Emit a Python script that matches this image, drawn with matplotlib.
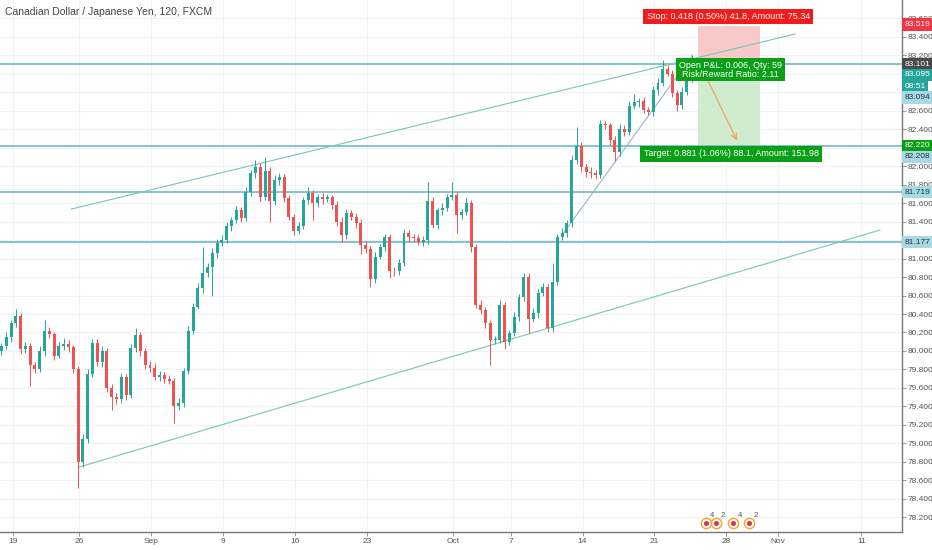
import matplotlib
matplotlib.use("Agg")
import matplotlib.pyplot as plt
import matplotlib.transforms as mtransforms

plt.rcParams['font.family'] = ['Liberation Sans', 'DejaVu Sans']

# CADJPY 120 min, resampled to ~3 candles per trading day
first_open = 80.00
closes = [
    80.05, 80.15, 80.30, 80.38, 80.02, 80.05, 79.85, 79.80, 80.00, 80.22,
    80.18, 79.95, 80.05, 80.08, 80.04, 79.80, 78.80, 79.05, 79.75, 80.09,
    79.88, 80.00, 79.60, 79.50, 79.48, 79.72, 79.52, 80.03, 80.17, 80.00,
    79.85, 79.82, 79.72, 79.74, 79.70, 79.68, 79.40, 79.44, 79.78, 80.22,
    80.48, 80.68, 80.84, 80.91, 81.06, 81.17, 81.20, 81.35, 81.42, 81.52,
    81.44, 81.72, 81.92, 81.99, 81.66, 81.95, 81.62, 81.85, 81.88, 81.65,
    81.45, 81.30, 81.35, 81.63, 81.71, 81.60, 81.66, 81.64, 81.66, 81.58,
    81.40, 81.25, 81.49, 81.45, 81.38, 81.15, 81.10, 80.78, 81.02, 81.12,
    81.23, 80.87, 80.86, 80.95, 81.28, 81.23, 81.22, 81.18, 81.20, 81.62,
    81.36, 81.52, 81.55, 81.66, 81.69, 81.47, 81.50, 81.60, 81.12, 80.50,
    80.44, 80.30, 80.12, 80.12, 80.50, 80.10, 80.19, 80.37, 80.58, 80.80,
    80.35, 80.41, 80.63, 80.69, 80.25, 80.75, 81.23, 81.28, 81.38, 82.06,
    82.22, 81.99, 81.94, 81.92, 81.90, 82.45, 82.44, 82.28, 82.15, 82.40,
    82.37, 82.65, 82.69, 82.70, 82.61, 82.58, 82.82, 82.90, 83.05, 83.00,
    82.79, 82.66, 82.80, 82.96, 83.095,
]
# upper / lower wick lengths in pips
wick_hi = [
    4, 5, 4, 7, 3, 5, 4, 3, 5, 11,
    4, 3, 5, 6, 4, 3, 4, 5, 6, 4,
    4, 5, 3, 4, 5, 4, 3, 5, 8, 4,
    3, 4, 5, 4, 3, 4, 3, 5, 4, 5,
    4, 5, 28, 4, 5, 4, 5, 4, 3, 5,
    4, 5, 4, 7, 4, 15, 4, 5, 4, 3,
    4, 3, 5, 4, 6, 3, 4, 5, 4, 3,
    4, 5, 4, 3, 4, 5, 4, 3, 5, 4,
    4, 3, 4, 5, 4, 3, 4, 5, 4, 21,
    4, 3, 5, 4, 14, 3, 4, 5, 3, 4,
    5, 4, 3, 4, 5, 3, 4, 5, 4, 4,
    4, 5, 4, 4, 3, 20, 4, 5, 4, 6,
    20, 4, 3, 5, 4, 5, 4, 3, 4, 5,
    4, 5, 9, 4, 5, 3, 4, 5, 10, 4,
    4, 3, 5, 4, 10,
]
wick_lo = [
    4, 3, 5, 4, 5, 4, 23, 4, 3, 5,
    4, 5, 3, 4, 5, 4, 28, 5, 4, 3,
    4, 5, 4, 14, 5, 4, 5, 3, 4, 5,
    4, 5, 3, 4, 5, 4, 18, 4, 5, 3,
    4, 3, 5, 4, 31, 5, 4, 3, 5, 4,
    5, 3, 4, 5, 4, 3, 22, 4, 5, 4,
    3, 5, 4, 3, 4, 18, 4, 5, 3, 4,
    5, 7, 4, 3, 5, 10, 4, 9, 4, 3,
    4, 8, 5, 4, 3, 5, 4, 3, 5, 4,
    3, 4, 5, 4, 3, 19, 4, 3, 5, 4,
    4, 5, 27, 4, 3, 8, 4, 3, 5, 4,
    15, 4, 5, 3, 4, 5, 4, 3, 5, 4,
    4, 5, 6, 5, 4, 3, 4, 5, 10, 4,
    5, 4, 3, 5, 4, 3, 4, 5, 4, 3,
    4, 6, 4, 3, 5,
]

# trading-day position of each date label (Aug 19 ~ 0)
date_days = [0.4, 5, 10, 15, 20, 25, 31, 35, 40, 45, 50, 53.6, 59.4]
date_labels = ['19', '26', 'Sep', '9', '16', '23', 'Oct', '7', '14', '21', '28', 'Nov', '11']

# price scale labels hidden behind the tags in the reference
hidden_prices = ['83.000', '82.800', '82.200', '81.200']

# drawings: (candle, price) anchors
upper_channel = [(14.6, 81.535), (165.6, 83.427)]
lower_channel = [(16.25, 78.746), (183.3, 81.308)]
steep_line = [(117.3, 81.276), (144.2, 83.20)]
levels = [83.101, 82.220, 81.719, 81.177]

# short position tool
pos_start, pos_end = 145.4, 158.3
entry, stop, target = 83.101, 83.519, 82.220
arrow_from = (146.9, 82.98)
arrow_to = (153.75, 82.25)

# price scale tags: (where drawn, label, face, text colour)
tags = [
    (83.53, '83.519', '#f23645', 'white'),
    (83.101, '83.101', '#4a4a4a', 'white'),
    (82.985, '83.095', '#26a69a', 'white'),
    (82.86, '08:51', '#26a69a', 'white'),
    (82.74, '83.094', '#a8d8e3', '#1a3a44'),
    (82.220, '82.220', '#0a9f17', 'white'),
    (82.10, '82.208', '#a8d8e3', '#1a3a44'),
    (81.719, '81.719', '#a8d8e3', '#1a3a44'),
    (81.177, '81.177', '#a8d8e3', '#1a3a44'),
]

events = [(147.0, '4'), (149.2, '2'), (152.7, '4'), (156.0, '2')]

UP = '#26a69a'
DOWN = '#ef5350'

fig = plt.figure(figsize=(9.32, 5.5), dpi=100)
ax = fig.add_axes([0, 18 / 550, 902 / 932, 532 / 550])

# grid
for d in date_days:
    ax.axvline(3 * d + 1.25, color='#eef1f6', lw=0.8, zorder=0)
price_ticks = [78.2 + 0.2 * i for i in range(28)]
for p in price_ticks:
    ax.axhline(p, color='#eef1f6', lw=0.8, zorder=0)

# candles
opens = [first_open] + closes[:-1]
for i, (o, c) in enumerate(zip(opens, closes)):
    col = UP if c >= o else DOWN
    hi = max(o, c) + wick_hi[i] / 100.0
    lo = min(o, c) - wick_lo[i] / 100.0
    ax.vlines(i, lo, hi, color=col, lw=0.7, zorder=3)
    ax.bar(i, max(abs(c - o), 0.008), bottom=min(o, c), width=0.62,
           color=col, lw=0, zorder=3)

# horizontal levels
for lv in levels:
    ax.axhline(lv, color='#6fb8c8', lw=1.2, zorder=2)

# trend lines
for ln, col in [(upper_channel, '#78c6b4'), (lower_channel, '#78c6b4'),
                (steep_line, '#9bb5c8')]:
    ax.plot([ln[0][0], ln[1][0]], [ln[0][1], ln[1][1]], color=col, lw=0.8, zorder=2)

# position tool
ax.fill_between([pos_start, pos_end], entry, stop, color='#f9c8c8', lw=0, zorder=1)
ax.fill_between([pos_start, pos_end], target, entry, color='#cfeccf', lw=0, zorder=1)
ax.annotate('', xy=arrow_to, xytext=arrow_from,
            arrowprops=dict(arrowstyle='->', color='#f5a35c', lw=0.9), zorder=4)

mid = (pos_start + pos_end) / 2
ax.text(mid - 0.2, 83.62, 'Stop: 0.418 (0.50%) 41.8, Amount: 75.34', color='white',
        fontsize=6.5, ha='center', va='center', zorder=6,
        bbox=dict(boxstyle='square,pad=0.35', fc='#f21b1b', ec='none'))
ax.text(mid + 0.3, 83.04, 'Open P&L: 0.006, Qty: 59\nRisk/Reward Ratio: 2.11',
        color='white', fontsize=6.5, ha='center', va='center', zorder=6,
        linespacing=0.95,
        bbox=dict(boxstyle='square,pad=0.3', fc='#0a9f17', ec='none'))
ax.text(mid + 0.4, 82.13, 'Target: 0.881 (1.06%) 88.1, Amount: 151.98', color='white',
        fontsize=6.5, ha='center', va='center', zorder=6,
        bbox=dict(boxstyle='square,pad=0.35', fc='#0a9f17', ec='none'))

# events
for k, n in events:
    ax.scatter([k], [78.14], s=55, facecolor='white', edgecolor='#f5a623', lw=1.0, zorder=5)
    ax.scatter([k], [78.14], s=7, color='#e8304a', zorder=6)
    ax.text(k + 0.9, 78.20, n, fontsize=5.5, color='#555555', zorder=7)

# axes
ax.set_xlim(-0.3, 902 / 4.8)
ax.set_ylim(78.043, 83.795)
ax.yaxis.tick_right()
ax.set_yticks(price_ticks)
ylabels = ['%.3f' % p for p in price_ticks]
ax.set_yticklabels(['' if s in hidden_prices else s for s in ylabels])
ax.set_xticks([3 * d + 1.25 for d in date_days])
ax.set_xticklabels(date_labels)
ax.tick_params(axis='both', labelsize=6.0, colors='#888888', labelcolor='#555555',
               length=3, width=0.6, pad=1.2)
for s in ['top', 'left']:
    ax.spines[s].set_visible(False)
for s in ['right', 'bottom']:
    ax.spines[s].set_color('#777777')
    ax.spines[s].set_linewidth(1.0)

trans = mtransforms.blended_transform_factory(ax.transAxes, ax.transData)
for p, lab, fc, tc in tags:
    ax.text(1.0025, p, lab, transform=trans, fontsize=6.0, color=tc, ha='left',
            va='center', zorder=8, clip_on=False,
            bbox=dict(boxstyle='square,pad=0.32', fc=fc, ec='none'))

fig.text(5 / 932, 1 - 12 / 550, 'Canadian Dollar / Japanese Yen, 120, FXCM',
         fontsize=7.5, color='#444444', va='center')

fig.savefig('out.png', dpi=100)
